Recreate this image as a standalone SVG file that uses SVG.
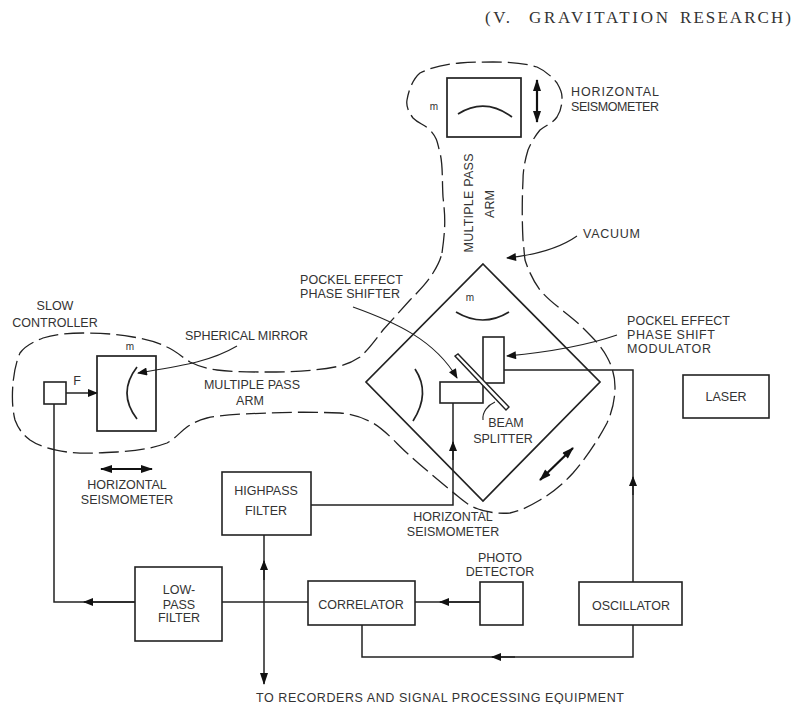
<svg xmlns="http://www.w3.org/2000/svg" width="795" height="704" viewBox="0 0 795 704">
<style>
text{font-family:"Liberation Sans",Arial,sans-serif;font-size:12.5px;fill:#333;text-anchor:middle}
.l{text-anchor:start}
.h{font-family:"Liberation Serif",serif;font-size:17px;text-anchor:start;fill:#333}
.b{fill:#fff;stroke:#222;stroke-width:1.6}
.w{fill:none;stroke:#222;stroke-width:1.5}
.t{fill:none;stroke:#222;stroke-width:1.1}
.m{fill:none;stroke:#222;stroke-width:1.7}
.d{fill:none;stroke:#222;stroke-width:1.3;stroke-dasharray:20 6}
.a{fill:none;stroke:#111;stroke-width:2.2;marker-start:url(#hs);marker-end:url(#he)}
</style>
<defs>
<marker id="ar" viewBox="0 0 10 8" refX="9" refY="4" markerUnits="userSpaceOnUse" markerWidth="12" markerHeight="8" orient="auto"><path d="M0 0L10 4L0 8Z" fill="#111"/></marker>
<marker id="he" viewBox="0 0 12 8" refX="11" refY="4" markerUnits="userSpaceOnUse" markerWidth="13" markerHeight="8" orient="auto"><path d="M0 0L12 4L0 8Z" fill="#111"/></marker>
<marker id="hs" viewBox="0 0 12 8" refX="1" refY="4" markerUnits="userSpaceOnUse" markerWidth="13" markerHeight="8" orient="auto"><path d="M12 0L0 4L12 8Z" fill="#111"/></marker>
</defs>
<g id="header">
<text class="h" x="485" y="22.5" textLength="25">(V.</text>
<text class="h" x="529" y="22.5" textLength="139">GRAVITATION</text>
<text class="h" x="680" y="22.5" textLength="111">RESEARCH)</text>
</g>

<g id="vacuum-envelope">
<path class="d" d="M442 253C446 225 445 215 443 197C442 180 443 165 440 153C437 142 438 139 430 130C424 124 419 124 413 118C408 111 406 106 407 100C409 88 414 78 420 73C432 67 446 64 460 63C472 62 482 62 493 62C508 62 524 63 537 67C546 71 552 77 557 83C560 88 562 92 562 97C562 105 561 111 557 117C552 124 546 125 540 130C535 136 531 143 528 150C525 160 523 170 523 180C522 200 522 220 523 240C524 248 524 252 525 260C529 272 534 282 540 290C552 304 566 312 580 325C590 335 601 345 607 357C612 366 615 376 615 387C615 400 612 412 607 423C598 440 586 458 573 473C563 484 552 493 540 500C530 506 520 511 510 513C497 514 484 512 473 507C465 503 458 496 450 490C436 478 421 466 407 453C396 443 385 430 373 423C362 417 351 414 340 413C316 412 291 412 267 413C247 414 226 414 207 418C199 420 193 423 187 427C180 432 175 439 167 443C151 449 134 451 117 452C100 453 83 454 67 452C54 450 40 447 30 440C22 434 18 428 15 420C12 408 12 395 13 383C14 373 16 362 20 353C25 346 33 342 43 338C56 334 70 333 83 333C100 333 117 334 133 337C145 339 157 342 167 347C176 351 182 357 190 362C198 366 207 369 217 370C233 372 250 372 267 372C292 372 316 371 340 366C348 364 354 361 360 357C369 349 376 339 383 330C392 320 401 310 410 300C418 292 427 283 433 273C438 265 440 261 442 253"/>
</g>

<g id="connectors">
<path class="w" d="M54 404V602H135"/>
<path class="w" d="M135 602H84" marker-end="url(#ar)"/>
<path class="w" d="M222 602H308"/>
<path class="w" d="M264 535V684" marker-end="url(#he)"/>
<path class="w" d="M264 580V561" marker-end="url(#ar)"/>
<path class="w" d="M480 602H415"/>
<path class="w" d="M480 602H440" marker-end="url(#ar)"/>
<path class="w" d="M362 624V657H633V625"/>
<path class="w" d="M515 657H492" marker-end="url(#ar)"/>
<path class="w" d="M633 582V370H504"/>
<path class="w" d="M633 495V477" marker-end="url(#ar)"/>
<path class="w" d="M311 505H453V403"/>
<path class="w" d="M453 460V442" marker-end="url(#ar)"/>
<path class="w" d="M66 393H97" marker-end="url(#ar)"/>
<path class="t" d="M237 346C210 362 180 366 138 373" marker-end="url(#ar)"/>
<path class="t" d="M353 307C395 322 435 340 457 378" marker-end="url(#ar)"/>
<path class="t" d="M617 335C585 346 550 352 507 356" marker-end="url(#ar)"/>
<path class="t" d="M577 236C560 248 535 255 507 258" marker-end="url(#ar)"/>
<path class="t" d="M483 420C482 412 488 405 495 402"/>
</g>

<g id="diamond"><path class="m" d="M483 264L600 382L483 501L366 382Z"/>
<path class="m" d="M456 312Q483 328 509 312"/><path class="m" d="M415 369Q431 393 413 421"/>
<text x="470" y="301" style="font-size:10px">m</text></g>
<g id="modulator"><rect class="b" x="483" y="337" width="21" height="46"/></g>
<g id="phase-shifter"><rect class="b" x="440" y="382" width="43" height="21"/></g>
<g id="beam-splitter"><path fill="#fff" stroke="#222" stroke-width="1.4" d="M455 356L458 354L509 407L506 410Z"/></g>
<g id="top-mirror"><rect class="m" x="447" y="78" width="74" height="59"/><path class="m" d="M458 114Q485 97 512 117"/><text x="434" y="110" style="font-size:10px">m</text></g>
<g id="top-arrow"><path class="a" d="M537 80V122"/></g>
<g id="left-mirror"><rect class="m" x="97" y="356" width="59" height="75"/><path class="m" d="M137 367Q117 393 137 419"/><text x="130" y="350" style="font-size:10px">m</text></g>
<g id="left-arrow"><path class="a" d="M101 469H152"/></g>
<g id="slow-controller"><rect class="b" x="44" y="382" width="22" height="22"/><text x="77" y="385">F</text></g>
<g id="diamond-arrow"><path class="a" d="M540 480L573 448"/></g>
<g id="highpass"><rect class="b" x="222" y="472" width="89" height="63"/><text x="266" y="495">HIGHPASS</text><text x="266" y="515">FILTER</text></g>
<g id="lowpass"><rect class="b" x="135" y="567" width="87" height="74"/><text x="179" y="594">LOW-</text><text x="179" y="609">PASS</text><text x="179" y="622">FILTER</text></g>
<g id="correlator"><rect class="b" x="308" y="581" width="107" height="44"/><text x="361" y="609">CORRELATOR</text></g>
<g id="photo"><rect class="b" x="480" y="582" width="43" height="43"/><text x="500" y="562">PHOTO</text><text x="500" y="576">DETECTOR</text></g>
<g id="oscillator"><rect class="b" x="579" y="582" width="103" height="43"/><text x="631" y="610">OSCILLATOR</text></g>
<g id="laser"><rect class="b" x="683" y="375" width="86" height="43"/><text x="726" y="401">LASER</text></g>

<g id="labels">
<text class="l" x="571" y="96" textLength="88">HORIZONTAL</text><text class="l" x="571" y="111" textLength="88">SEISMOMETER</text>
<text class="l" x="583" y="238" textLength="57">VACUUM</text>
<text transform="translate(473 203) rotate(-90)" textLength="99">MULTIPLE PASS</text>
<text transform="translate(494 204) rotate(-90)">ARM</text>
<text class="l" x="300" y="284" textLength="103">POCKEL EFFECT</text><text class="l" x="300" y="298" textLength="100">PHASE SHIFTER</text>
<text class="l" x="627" y="325" textLength="103">POCKEL EFFECT</text><text class="l" x="627" y="339" textLength="88">PHASE SHIFT</text><text class="l" x="627" y="353" textLength="84">MODULATOR</text>
<text x="55" y="310">SLOW</text><text x="55" y="327">CONTROLLER</text>
<text class="l" x="185" y="340" textLength="123">SPHERICAL MIRROR</text>
<text x="252" y="389">MULTIPLE PASS</text><text x="250" y="405">ARM</text>
<text x="127" y="489">HORIZONTAL</text><text x="127" y="504">SEISMOMETER</text>
<text x="506" y="427">BEAM</text><text x="503" y="443">SPLITTER</text>
<text x="453" y="521">HORIZONTAL</text><text x="453" y="536">SEISMOMETER</text>
<text class="l" x="256" y="702" textLength="368">TO RECORDERS AND SIGNAL PROCESSING EQUIPMENT</text>
</g>
</svg>
